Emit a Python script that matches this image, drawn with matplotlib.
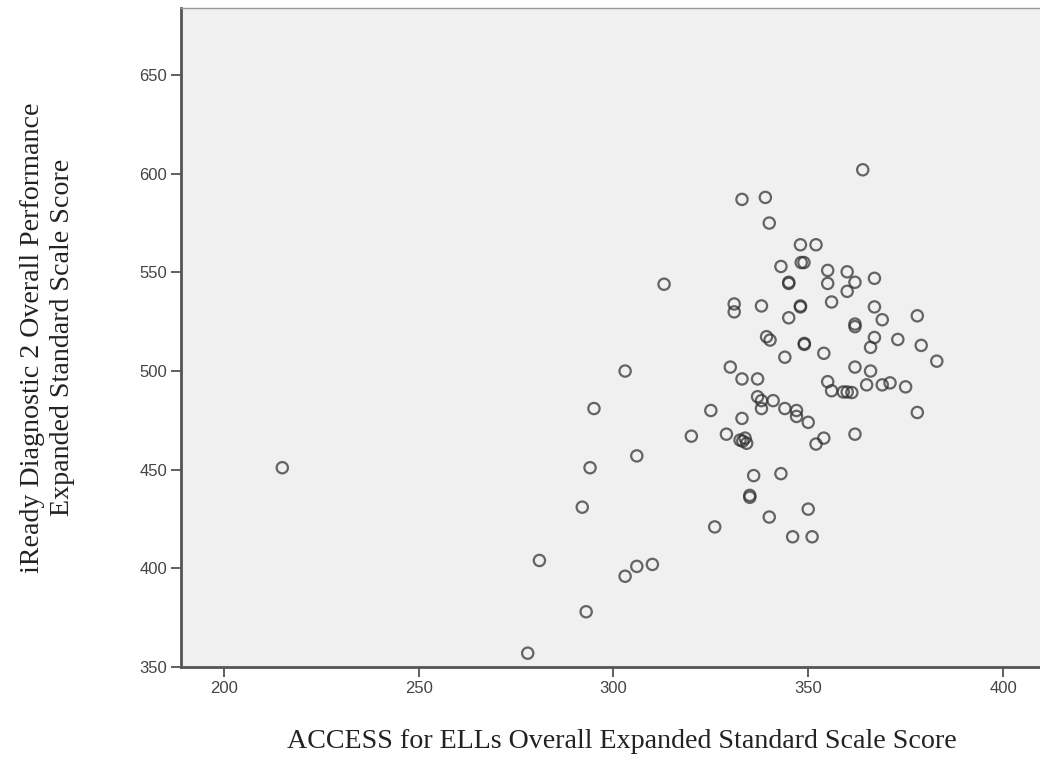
import matplotlib.pyplot as plt

# ACCESS for ELLs score (x) vs iReady Diagnostic 2 score (y)
access = [215, 278, 281, 293, 292, 294, 295, 303, 303, 306, 310, 306, 313, 320,
          325, 326, 329, 330, 331, 331, 333, 333, 333, 332.5, 333.8, 334.2, 333.2,
          335, 335, 336, 337, 337, 338, 338, 338, 339, 339.3, 340.2, 340, 340,
          341, 343, 343, 344, 344, 345, 345, 345, 346, 347, 347, 348, 348, 348,
          348.2, 348.9, 349, 349, 350, 350, 351, 352, 352, 354, 354, 355, 355,
          355, 356, 356, 359, 360, 361.2, 360, 360, 362, 362, 362, 362, 362,
          364, 365, 366, 366, 367, 367, 367, 369, 369, 371, 373, 375, 378, 378,
          379, 383]
iready = [451, 357, 404, 378, 431, 451, 481, 500, 396, 401, 402, 457, 544, 467,
          480, 421, 468, 502, 534, 530, 587, 496, 476, 465, 466, 463.4, 464.5,
          437, 436, 447, 496, 487, 485, 481, 533, 588, 517.4, 515.7, 575, 426,
          485, 553, 448, 507, 481, 545, 544.4, 527, 416, 480, 477, 564, 533,
          532.5, 555, 555, 514, 513.5, 474, 430, 416, 564, 463, 466, 509, 551,
          544.4, 494.6, 535, 490, 489.4, 489.4, 489.1, 550.3, 540.4, 545, 523.8,
          522.5, 502, 468, 602, 493, 512, 500, 547, 517, 532.5, 526, 493, 494,
          516, 492, 479, 528, 513, 505]

fig = plt.figure(figsize=(10.4, 7.57), dpi=100)
# the plot frame runs past the right edge of the picture (cropped original)
ax = fig.add_axes([181/1040, 1 - 667/757, (1063 - 181)/1040, (667 - 8)/757])
ax.set_facecolor('#f0f0f0')

ax.scatter(access, iready, s=66, facecolors='none', edgecolors='#2e2e2e',
           linewidths=1.6, alpha=0.72, zorder=3)

ax.set_xlim(189, 415.4)
ax.set_ylim(350, 684)
ax.set_xticks([200, 250, 300, 350, 400])
ax.set_yticks([350, 400, 450, 500, 550, 600, 650])

for side in ['left', 'bottom']:
    ax.spines[side].set_color('#555555')
    ax.spines[side].set_linewidth(2)
ax.spines['top'].set_color('#999999')
ax.spines['top'].set_linewidth(1)
ax.spines['right'].set_visible(False)

ax.tick_params(direction='out', length=7, width=1.2, color='#444444',
               labelsize=12, labelcolor='#444444', pad=3)
for lab in ax.get_xticklabels() + ax.get_yticklabels():
    lab.set_family('Liberation Sans')

ax.set_xlabel('ACCESS for ELLs Overall Expanded Standard Scale Score',
              family='Liberation Serif', fontsize=20.2, color='#222222', labelpad=24)
ax.set_ylabel('iReady Diagnostic 2 Overall Performance\nExpanded Standard Scale Score',
              family='Liberation Serif', fontsize=20.2, color='#222222', labelpad=46,
              linespacing=1.3)

fig.savefig('out.png', dpi=100)
